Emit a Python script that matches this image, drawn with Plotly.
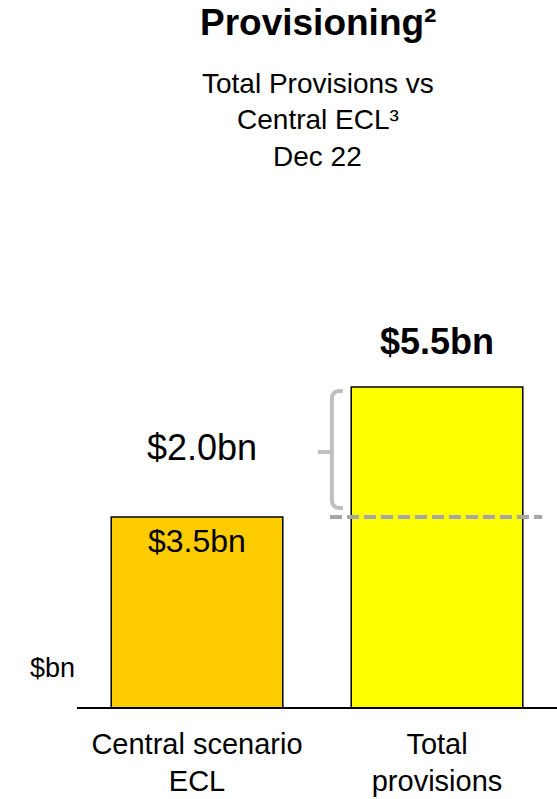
import plotly.graph_objects as go

# ---- data ----
categories = ["Central scenario<br>ECL", "Total<br>provisions"]
values_bn = [3.5, 5.5]
bar_colors = ["#FFCC00", "#FFFF00"]
value_labels = ["$3.5bn", "$5.5bn"]
gap_label = "$2.0bn"

FONT = "Liberation Sans, Arial, sans-serif"
Y0 = 0.577          # axis start (chart is not drawn from zero)
PX_PER_BN = 65.0
PLOT_H = 707
y_top = Y0 + PLOT_H / PX_PER_BN

fig = go.Figure()
fig.add_trace(go.Bar(
    x=categories, y=values_bn, width=0.715,
    marker=dict(color=bar_colors, line=dict(color="black", width=1.5)),
    hoverinfo="skip", showlegend=False,
))

low, high = values_bn
mid = (low + high) / 2

# bracket (x in paper, y in data)
xr, xv, xn = 0.554, 0.531, 0.502
rx, ry = 0.017, 8 / PX_PER_BN
yt = high - 4 / PX_PER_BN
yb = low + 9 / PX_PER_BN
path = (f"M {xr},{yt} L {xv+rx},{yt} Q {xv},{yt} {xv},{yt-ry} "
        f"L {xv},{yb+ry} Q {xv},{yb} {xv+rx},{yb} L {xr},{yb} "
        f"M {xv},{mid} L {xn},{mid}")
fig.add_shape(type="path", path=path, xref="paper", yref="y",
              line=dict(color="#bfbfbf", width=4))

# dashed reference line at the lower value
fig.add_shape(type="line", xref="paper", yref="y", x0=0.527, x1=0.969,
              y0=low, y1=low, line=dict(color="#a6a6a6", width=4, dash="12px,5px"))

ann = []
ann.append(dict(x=0, y=low, xref="x", yref="y", text=value_labels[0], showarrow=False,
                xanchor="center", yanchor="top", yshift=-4,
                font=dict(size=32, color="black", family=FONT)))
ann.append(dict(x=1, y=high, xref="x", yref="y", text="<b>" + value_labels[1] + "</b>",
                showarrow=False, xanchor="center", yanchor="bottom", yshift=23,
                font=dict(size=36, color="black", family=FONT)))
ann.append(dict(x=0.26, y=mid, xref="paper", yref="y", text=gap_label, showarrow=False,
                xanchor="center", yanchor="middle", yshift=5,
                font=dict(size=36, color="black", family=FONT)))
ann.append(dict(x=-0.052, y=0.055, xref="paper", yref="paper", text="$bn", showarrow=False,
                xanchor="center", yanchor="middle",
                font=dict(size=27, color="black", family=FONT)))
ann.append(dict(x=0.502, y=0.968, xref="paper", yref="paper",
                text="<b>Provisioning²</b>", showarrow=False,
                xanchor="center", yanchor="middle",
                font=dict(size=37, color="black", family=FONT)))
ann.append(dict(x=0.502, y=0.857, xref="paper", yref="paper",
                text="Total Provisions vs<br>Central ECL³", showarrow=False,
                xanchor="center", yanchor="middle",
                font=dict(size=28, color="black", family=FONT)))
ann.append(dict(x=0.502, y=0.778, xref="paper", yref="paper", text="Dec 22", showarrow=False,
                xanchor="center", yanchor="middle",
                font=dict(size=28, color="black", family=FONT)))

fig.update_layout(
    width=557, height=799,
    margin=dict(l=77, r=0, t=0, b=92, autoexpand=False),
    paper_bgcolor="white", plot_bgcolor="white",
    annotations=ann,
    xaxis=dict(range=[-0.5, 1.5], showline=True, linecolor="black", linewidth=1.5,
               showgrid=False, zeroline=False, ticks="", ticklabelstandoff=10,
               automargin=False,
               tickfont=dict(size=29, color="black", family=FONT)),
    yaxis=dict(range=[Y0, y_top], visible=False, showgrid=False, zeroline=False,
               automargin=False),
    font=dict(family=FONT, color="black"),
)

fig.write_html("out.html", config={"displayModeBar": False},
               post_script="document.body.style.margin='0';document.body.style.overflow='hidden';")
